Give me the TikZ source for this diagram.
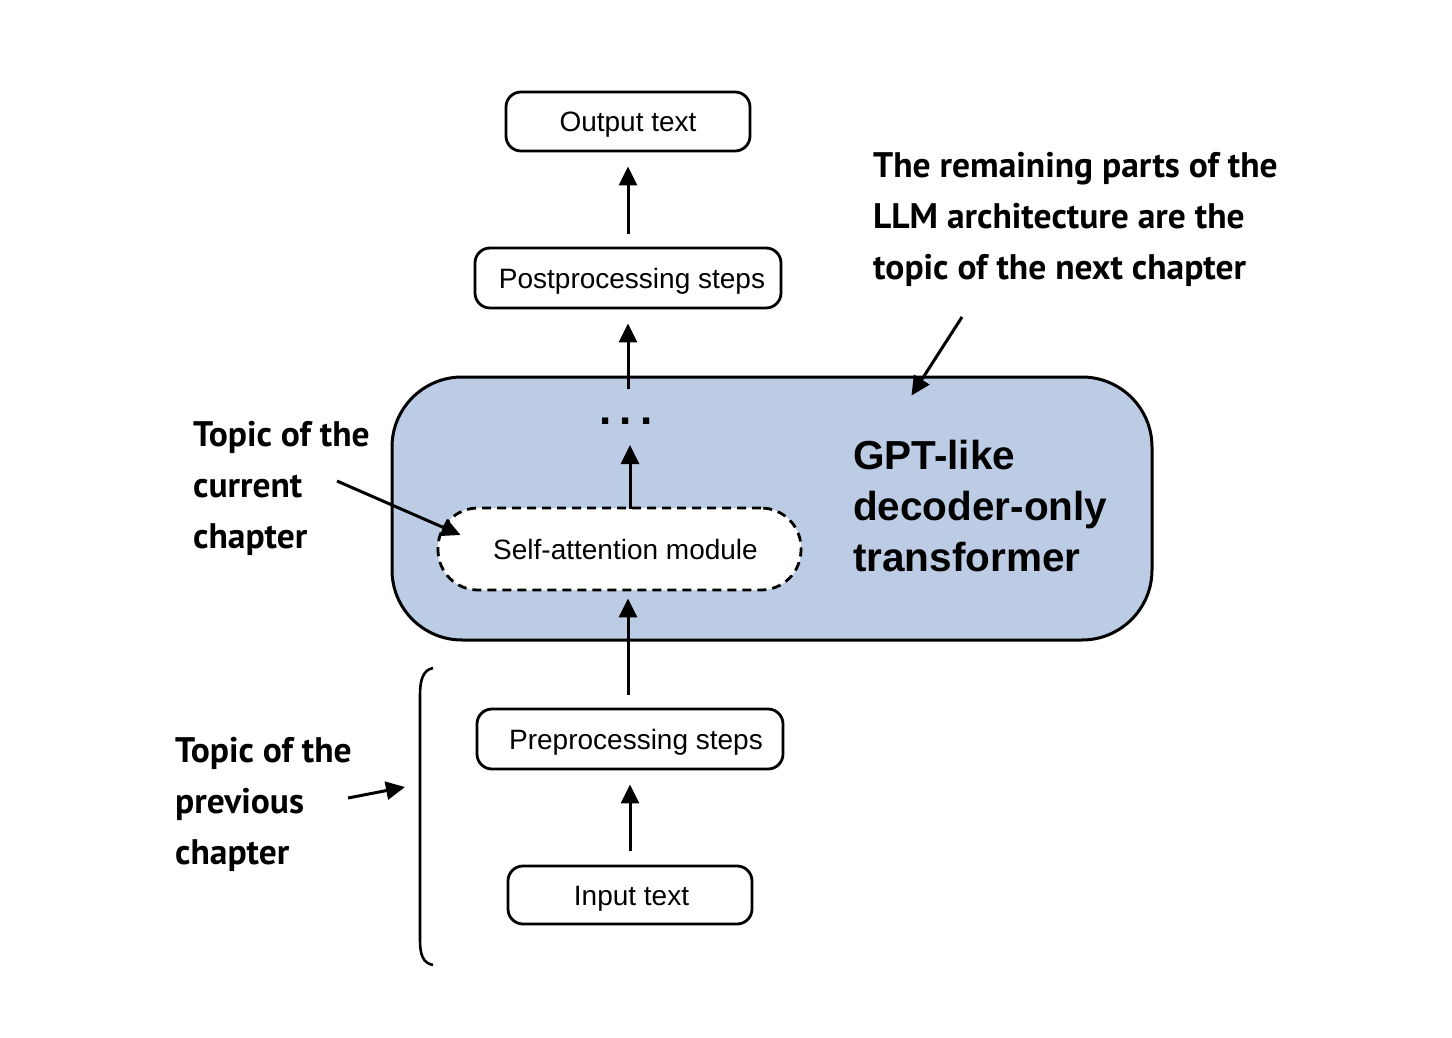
\documentclass[tikz,border=0pt]{standalone}
\usepackage{fontspec}
\setmainfont{Liberation Sans}
\newfontfamily\annfont{PT Sans}
\usetikzlibrary{arrows.meta,calc}
\definecolor{gptblue}{RGB}{188,204,228}
\begin{document}
\begin{tikzpicture}[x=1pt,y=-1pt,
  box/.style={draw, line width=2.8pt, rounded corners=15pt, fill=white, font=\fontsize{28}{33}\selectfont, inner sep=0pt, text height=20pt, text depth=0pt},
  arr/.style={line width=3pt, -{Triangle[length=19pt,width=18pt]}},
  ann/.style={font=\annfont\bfseries\fontsize{35.5}{51}\selectfont, align=left, anchor=north west, inner sep=0pt},
]
\useasboundingbox (0,0) rectangle (1452,1038);
\node[draw, line width=3pt, fill=gptblue, rounded corners=70pt, minimum width=760pt, minimum height=263pt, inner sep=0pt] (gpt) at (772,508.5) {};
\node[font=\bfseries\fontsize{40.5}{51}\selectfont, align=left, anchor=north west, inner sep=0pt] (gpttext) at (853,440) {GPT-like\\decoder-only\\transformer};

\node[box, minimum width=244pt, minimum height=59pt] (out) at (628,121.5) {Output text};
\node[box, minimum width=306pt, minimum height=60pt] (post) at (628,278) {\hspace*{8pt}Postprocessing steps};
\node[box, dash pattern=on 9pt off 6pt, rounded corners=40pt, minimum width=363pt, minimum height=82pt] (sa) at (619.5,549) {\hspace*{12pt}Self-attention module};
\node[box, minimum width=306pt, minimum height=60pt] (pre) at (630,739) {\hspace*{12pt}Preprocessing steps};
\node[box, minimum width=244pt, minimum height=58pt] (in) at (630,895) {\hspace*{3pt}Input text};
\node[font=\bfseries\fontsize{44}{44}\selectfont, anchor=base, inner sep=0pt] (dots) at (626,424) {.\hspace{8pt}.\hspace{8pt}.};

\draw[arr] ([yshift=13pt]post.north) -- ([yshift=-14pt]out.south);
\draw[arr] ($(gpt.north -| post.south)+(0,13)$) -- ([yshift=-14pt]post.south);
\draw[arr] ($(sa.north)+(10.5,2)$) -- ($(dots.base)+(4,21)$);
\draw[arr] ([xshift=-2pt,yshift=13pt]pre.north) -- ([xshift=8.5pt,yshift=-7pt]sa.south);
\draw[arr] ([yshift=14pt]in.north) -- ([yshift=-14pt]pre.south);

% annotations
\node[ann] (cur) at (193,421) {Topic of the\\current\\chapter};
\coordinate (curtail) at (337,481);
\draw[arr] (curtail) -- ($(sa.west)+(24,-14)$);

\node[ann] (prev) at (175,737) {Topic of the\\previous\\chapter};
\draw[line width=2.6pt] (433,668) .. controls (423,670) and (420,680) .. (420,695) -- (420,940) .. controls (420,955) and (423,963) .. (433,965);
\coordinate (prevtail) at (348,798);
\coordinate (brack) at (405,787);
\draw[arr] (prevtail) -- (brack);

\node[ann] (rem) at (873,152) {The remaining parts of the\\LLM architecture are the\\topic of the next chapter};
\coordinate (remtail) at (962,317);
\draw[arr] (remtail) -- ($(gpt.north west)+(521,20)$);
\end{tikzpicture}
\end{document}
